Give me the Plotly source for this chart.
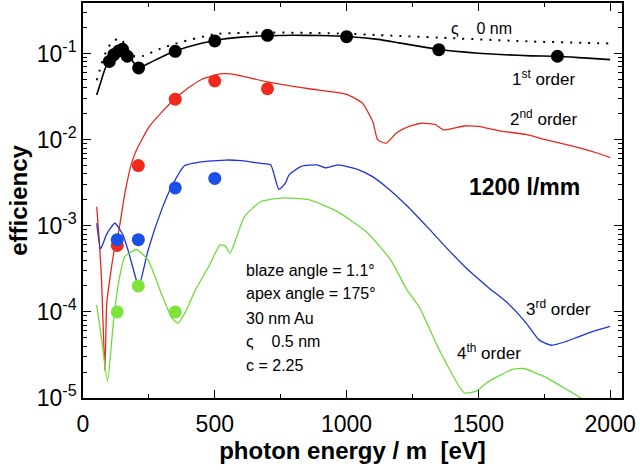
import plotly.graph_objects as go

# ---- data ----
e_first = [52, 64, 80, 100, 120, 140, 150, 170, 190, 211, 250, 300, 350, 400, 500, 600, 700, 800,
           900, 1000, 1120, 1200, 1300, 1350, 1400, 1500, 1600, 1700, 1800, 1900, 2000]
eff_first = [0.033, 0.043, 0.062, 0.085, 0.1, 0.114, 0.118, 0.1, 0.08, 0.068, 0.077, 0.092, 0.107,
             0.12, 0.142, 0.155, 0.161, 0.163, 0.162, 0.158, 0.146, 0.133, 0.118, 0.112, 0.107,
             0.101, 0.097, 0.094, 0.093, 0.089, 0.085]

e_zero = [52, 70, 90, 110, 134, 150, 170, 197, 228, 297, 350, 500, 700, 1000, 1120, 1350, 1700, 2000]
eff_zero = [0.049, 0.075, 0.11, 0.135, 0.15, 0.14, 0.11, 0.092, 0.094, 0.115, 0.13, 0.168, 0.176,
            0.17, 0.164, 0.153, 0.138, 0.131]

e_second = [52, 60, 70, 83, 90, 100, 108, 120, 134, 159, 184, 203, 250, 300, 350, 400, 450, 519,
            560, 600, 700, 858, 1000, 1060, 1100, 1118, 1150, 1190, 1230, 1283, 1337, 1368, 1445,
            1500, 1585, 1680, 1754, 1850, 1950, 2000]
eff_second = [1.66e-3, 8e-4, 2.5e-4, 2.1e-5, 1.26e-4, 2.2e-4, 3.3e-4, 5.5e-4, 8.1e-4, 2.4e-3,
              5.3e-3, 7.6e-3, 0.014, 0.021, 0.03, 0.04, 0.05, 0.058, 0.058, 0.055, 0.047, 0.039,
              0.0336, 0.0266, 0.016, 0.01, 0.0091, 0.012, 0.014, 0.0155, 0.015, 0.013, 0.0144,
              0.0143, 0.0126, 0.0115, 0.01, 0.0085, 0.007, 0.0062]

e_third = [52, 67, 90, 121, 150, 171, 203, 212, 247, 297, 335, 386, 442, 543, 600, 674, 712, 743,
           767, 782, 828, 889, 921, 967, 1044, 1100, 1152, 1230, 1306, 1380, 1460, 1540, 1607,
           1680, 1731, 1777, 1830, 1877, 1940, 2000]
eff_third = [1.07e-3, 5.4e-4, 8e-4, 1.07e-3, 8e-4, 5.2e-4, 2.3e-4, 1.95e-4, 5.2e-4, 1.5e-3, 2.8e-3,
             5e-3, 5.5e-3, 5.8e-3, 5.7e-3, 5.3e-3, 5.1e-3, 2.65e-3, 3.1e-3, 3.9e-3, 4.9e-3, 5.1e-3,
             4.7e-3, 5.1e-3, 4.5e-3, 3.7e-3, 2.8e-3, 1.7e-3, 9.7e-4, 5.5e-4, 3.1e-4, 1.9e-4,
             1.3e-4, 7.5e-5, 4.7e-5, 4.1e-5, 4.5e-5, 5.1e-5, 6e-5, 6.8e-5]

e_fourth = [52, 70, 93, 115, 134, 159, 203, 247, 297, 335, 360, 386, 427, 480, 520, 540, 558, 612,
            674, 751, 860, 967, 1075, 1168, 1229, 1275, 1352, 1446, 1492, 1538, 1630, 1672, 1754,
            1846, 1890]
eff_fourth = [1.2e-4, 5e-5, 1.55e-5, 7.4e-5, 2.1e-4, 4.4e-4, 5.3e-4, 4e-4, 1.64e-4, 8.7e-5, 7.4e-5,
              9.6e-5, 1.8e-4, 3.5e-4, 6e-4, 5.8e-4, 4.8e-4, 1.27e-3, 1.9e-3, 2.1e-3, 2e-3, 1.45e-3,
              8.5e-4, 4e-4, 1.8e-4, 1.15e-4, 3.6e-5, 1.15e-5, 1.2e-5, 1.55e-5, 2.15e-5, 2.2e-5,
              1.75e-5, 1.2e-5, 1e-5]

meas1_x = [100, 117, 135, 150, 168, 211, 350, 500, 700, 1000, 1350, 1800]
meas1_y = [0.081, 0.097, 0.107, 0.112, 0.093, 0.068, 0.106, 0.14, 0.163, 0.157, 0.111, 0.093]
meas2_x = [130, 210, 350, 500, 700]
meas2_y = [5.9e-4, 5.0e-3, 0.0295, 0.048, 0.039]
meas3_x = [130, 210, 350, 500]
meas3_y = [6.9e-4, 6.9e-4, 2.75e-3, 3.55e-3]
meas4_x = [130, 210, 350]
meas4_y = [1e-4, 2e-4, 1e-4]

x_ticks = [0, 500, 1000, 1500, 2000]
y_ticks = [1e-5, 1e-4, 1e-3, 1e-2, 1e-1]
y_ticktext = ["10<sup>-5</sup>", "10<sup>-4</sup>", "10<sup>-3</sup>", "10<sup>-2</sup>", "10<sup>-1</sup>"]

BLACK = "#000000"
RED = "#e8281c"
BLUE = "#1c34d8"
GREEN = "#6edc3a"
RED_DOT = "#f02a1e"
BLUE_DOT = "#1a4fe8"
GREEN_DOT = "#7ee43c"

fig = go.Figure()

def line(x, y, color, width=1.3, dash="solid"):
    fig.add_trace(go.Scatter(x=x, y=y, mode="lines",
                             line=dict(color=color, width=width, dash=dash, shape="spline", smoothing=0.5),
                             showlegend=False, hoverinfo="skip"))

def dots(x, y, color):
    fig.add_trace(go.Scatter(x=x, y=y, mode="markers",
                             marker=dict(color=color, size=13, line=dict(width=0)),
                             showlegend=False, hoverinfo="skip"))

line(e_zero, eff_zero, BLACK, 2, "2px,7px")
line(e_first, eff_first, BLACK, 1.6)
line(e_second, eff_second, RED, 1.3)
line(e_third, eff_third, BLUE, 1.3)
line(e_fourth, eff_fourth, GREEN, 1.3)
dots(meas2_x, meas2_y, RED_DOT)
dots(meas3_x, meas3_y, BLUE_DOT)
dots(meas4_x, meas4_y, GREEN_DOT)
dots(meas1_x, meas1_y, BLACK)

minor_y = [k * 10.0 ** e for e in range(-5, 0) for k in range(2, 10)]

FONT = "Arial, Liberation Sans, Helvetica, sans-serif"

fig.update_xaxes(range=[0, 2045], tickvals=x_ticks, ticks="inside", ticklen=8, tickwidth=1.2,
                 tickcolor="black", showline=True, linecolor="black", linewidth=1.5,
                 mirror="allticks", showgrid=False, zeroline=False, automargin=False,
                 ticklabelstandoff=5,
                 tickfont=dict(size=23, color="black", family=FONT),
                 minor=dict(tickvals=[250, 750, 1250, 1750], ticks="inside", ticklen=4,
                            tickcolor="black", showgrid=False),
                 title=dict(text="<b>photon energy / m &nbsp;[eV]</b>",
                            font=dict(size=24, color="black", family=FONT), standoff=6))
fig.update_yaxes(type="log", range=[-5, -0.413], tickvals=y_ticks, ticktext=y_ticktext,
                 ticks="inside", ticklen=8, tickwidth=1.2, tickcolor="black",
                 showline=True, linecolor="black", linewidth=1.5, mirror="allticks",
                 showgrid=False, zeroline=False, automargin=False,
                 tickfont=dict(size=23, color="black", family=FONT),
                 minor=dict(tickvals=minor_y, ticks="inside", ticklen=4, tickcolor="black",
                            showgrid=False),
                 title=dict(text="<b>efficiency</b>", font=dict(size=24, color="black", family=FONT),
                            standoff=2))

def note(x, y, text, size=17, bold=False, xanchor="center"):
    fig.add_annotation(x=x, y=y, text=("<b>%s</b>" % text) if bold else text, showarrow=False,
                       xanchor=xanchor, yanchor="middle",
                       font=dict(size=size, color="black", family=FONT))

note(1747, -1.284, "1<sup>st</sup> order")
note(1747, -1.75, "2<sup>nd</sup> order")
note(1675, -2.55, "1200 l/mm", size=23, bold=True)
note(1803, -3.955, "3<sup>rd</sup> order")
note(1539, -4.466, "4<sup>th</sup> order")
note(1390, -0.704, "ς&nbsp;&nbsp;&nbsp;&nbsp;0 nm", size=16, xanchor="left")

block = ["blaze angle = 1.1°", "apex angle = 175°", "30 nm Au", "ς&nbsp;&nbsp;&nbsp;&nbsp;0.5 nm", "c = 2.25"]
block_y = [-3.515, -3.782, -4.072, -4.339, -4.618]
for t, yy in zip(block, block_y):
    note(612, yy, t, size=16, xanchor="left")

fig.update_layout(width=640, height=470, plot_bgcolor="white", paper_bgcolor="white",
                  margin=dict(l=83, r=18, t=3, b=72, autoexpand=False), font=dict(family=FONT))

fig.write_html("out.html", config={"displayModeBar": False},
               post_script="document.body.style.margin='0';")
